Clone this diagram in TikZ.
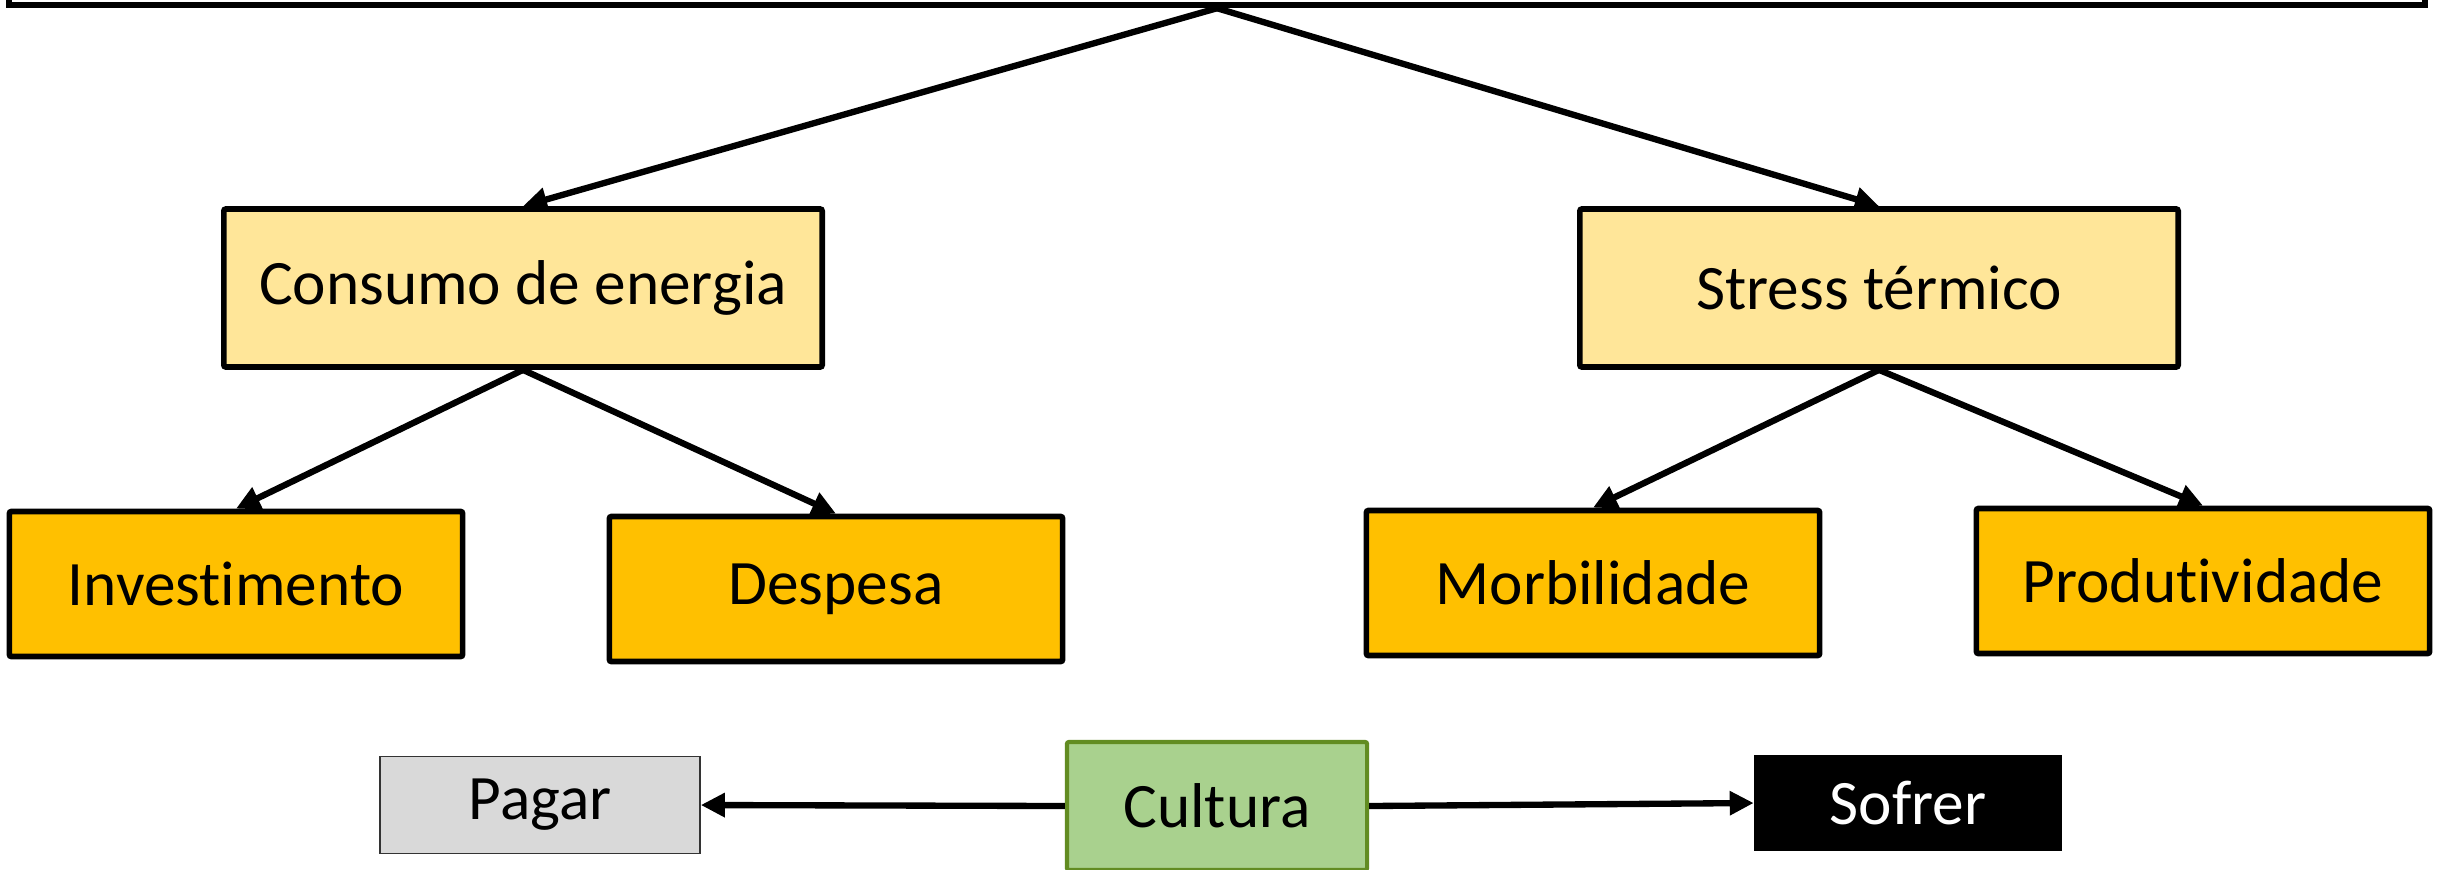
\documentclass[tikz,border=0pt]{standalone}
\usepackage{fontspec}
\setmainfont[Ligatures=NoCommon]{Carlito}
\usetikzlibrary{arrows.meta,positioning}
\definecolor{Canvas}{HTML}{FFFFFF}
\definecolor{PaleGold}{HTML}{FFE699}
\definecolor{Gold}{HTML}{FFC000}
\definecolor{Leaf}{HTML}{A9D18E}
\definecolor{LeafEdge}{HTML}{628C22}
\definecolor{Ash}{HTML}{D9D9D9}
\definecolor{InkDark}{HTML}{000000}

\begin{document}
\begin{tikzpicture}[x=0.01cm,y=-0.01cm,every node/.style={font=\fontsize{18}{21}\selectfont,text=InkDark},causebox/.style={draw=InkDark,fill=PaleGold,line width=1.6pt,rounded corners=0.6pt,minimum width=5.98cm,minimum height=1.58cm},effectbox/.style={draw=InkDark,fill=Gold,line width=1.6pt,rounded corners=0.6pt,minimum width=4.53cm,minimum height=1.45cm},link/.style={draw=InkDark,line width=1.8pt,-{Triangle[length=2.4mm,width=2.3mm]}}]
\useasboundingbox (0,0) rectangle (2440,869);
\clip (0,0) rectangle (2440,869);
\fill[Canvas] (0,0) rectangle (2440,869);
\node[draw=InkDark,line width=1.8pt,minimum width=24.14cm,minimum height=1.2cm] (topbar) at (1217,-55) {};
\node[causebox] (consumo) at (523,288) {Consumo de energia};
\node[causebox] (stress) at (1879,288) {Stress térmico};
\node[effectbox] (invest) at (236,584) {Investimento};
\node[effectbox] (despesa) at (836,589) {Despesa};
\node[effectbox] (morb) at (1593,583) {Morbilidade};
\node[effectbox] (produt) at (2203,581) {Produtividade};
\node[draw=InkDark!80,fill=Ash,line width=0.4pt,minimum width=3.2cm,minimum height=0.97cm] (pagar) at (540,805) {Pagar};
\node[draw=LeafEdge,fill=Leaf,line width=1.2pt,rounded corners=0.6pt,minimum width=3.0cm,minimum height=1.28cm] (cultura) at (1217,806) {Cultura};
\node[fill=InkDark,text=white,minimum width=3.07cm,minimum height=0.96cm] (sofrer) at (1908,803) {Sofrer};
\draw[link] (topbar.south) -- (consumo.north);
\draw[link] (topbar.south) -- (stress.north);
\draw[link] (consumo.south) -- (invest.north);
\draw[link] (consumo.south) -- (despesa.north);
\draw[link] (stress.south) -- (morb.north);
\draw[link] (stress.south) -- (produt.north);
\draw[link] (cultura.west) -- (pagar.east);
\draw[link] (cultura.east) -- (sofrer.west);
\end{tikzpicture}
\end{document}
